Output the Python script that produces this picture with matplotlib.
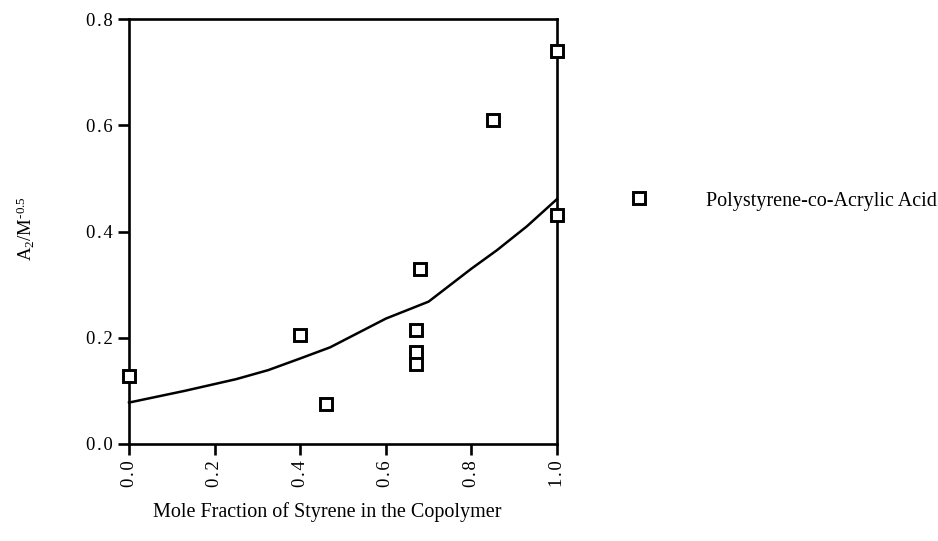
import numpy as np
import matplotlib.pyplot as plt

# data points (Polystyrene-co-Acrylic Acid)
frac_styrene = [0.0, 0.40, 0.46, 0.67, 0.67, 0.67, 0.68, 0.85, 1.0, 1.0]
a2_norm = [0.128, 0.205, 0.075, 0.215, 0.173, 0.150, 0.330, 0.610, 0.740, 0.432]

# fitted curve
fit_x = [0.0, 0.13, 0.25, 0.325, 0.40, 0.47, 0.60, 0.70, 0.80, 0.86, 0.93, 1.0]
fit_y = [0.078, 0.100, 0.122, 0.139, 0.161, 0.182, 0.236, 0.268, 0.330, 0.365, 0.410, 0.461]

xticks = [0.0, 0.2, 0.4, 0.6, 0.8, 1.0]
yticks = [0.0, 0.2, 0.4, 0.6, 0.8]

plt.rcParams['font.family'] = ['Liberation Serif', 'DejaVu Serif']
plt.rcParams['mathtext.fontset'] = 'custom'
plt.rcParams['mathtext.rm'] = 'Liberation Serif'
plt.rcParams['mathtext.it'] = 'Liberation Serif:italic'


def tick_fmt(v):
    # slightly spaced-out look of the original tick labels
    return '\u200a'.join(f'{v:.1f}')


fig = plt.figure(figsize=(9.38, 5.41), dpi=100)
ax = fig.add_axes([129 / 938, 1 - 444 / 541, 428 / 938, 425 / 541])

ax.plot(fit_x, fit_y, '-', color='black', lw=1.8, clip_on=False)
ax.plot(frac_styrene, a2_norm, 's', ms=8, mfc='white', mec='black', mew=2.1,
        ls='none', clip_on=False, zorder=5, label='Polystyrene-co-Acrylic Acid')

ax.set_xlim(0, 1.0)
ax.set_ylim(0, 0.8)
ax.set_xticks(xticks)
ax.set_yticks(yticks)
ax.set_xticklabels([tick_fmt(v) for v in xticks], rotation=90)
ax.set_yticklabels([tick_fmt(v) for v in yticks])
ax.tick_params(direction='out', length=8, width=1.9, labelsize=13.5, pad=4)

for s in ax.spines.values():
    s.set_linewidth(1.9)

ax.set_xlabel('Mole Fraction of Styrene in the Copolymer', fontsize=14.5)
ax.xaxis.set_label_coords(0.463, -0.136)
ax.set_ylabel(r'A$_2$/M$^{\mathrm{\text{-}0.5}}$', fontsize=13.5)
ax.yaxis.set_label_coords(-0.215, 0.508)

fig.legend(loc='center left', bbox_to_anchor=(629 / 938, 1 - 201 / 541),
           frameon=False, fontsize=14.5, handlelength=1.0, handletextpad=2.8,
           borderpad=0, borderaxespad=0, numpoints=1)

fig.savefig('out.png', dpi=100)
